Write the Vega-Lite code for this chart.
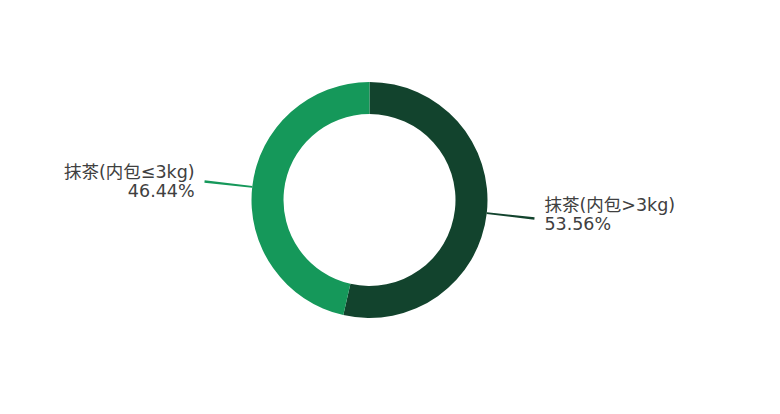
{
  "$schema": "https://vega.github.io/schema/vega-lite/v6.json",
  "width": 739,
  "height": 400,
  "padding": 0,
  "autosize": {"type": "none"},
  "background": "white",
  "view": {"stroke": null},
  "data": {
    "values": [
      {"idx": 1, "name": "抹茶(内包>3kg)", "value": 53.56},
      {"idx": 2, "name": "抹茶(内包≤3kg)", "value": 46.44}
    ]
  },
  "transform": [
    {"stack": "value", "groupby": [], "sort": [{"field": "idx"}], "as": ["v0", "v1"]},
    {"calculate": "(datum.v0 + datum.v1) / 2", "as": "mid"},
    {"calculate": "datum.mid - 0.12", "as": "lo"},
    {"calculate": "datum.mid + 0.12", "as": "hi"},
    {"calculate": "[datum.name, format(datum.value, '.2f') + '%']", "as": "label"}
  ],
  "encoding": {
    "color": {
      "field": "name",
      "type": "nominal",
      "scale": {"domain": ["抹茶(内包>3kg)", "抹茶(内包≤3kg)"], "range": ["#12432d", "#15985a"]},
      "legend": null
    }
  },
  "layer": [
    {
      "mark": {"type": "arc", "outerRadius": 118, "innerRadius": 86},
      "encoding": {
        "theta": {"field": "v0", "type": "quantitative", "scale": {"domain": [0, 100]}},
        "theta2": {"field": "v1"}
      }
    },
    {
      "mark": {"type": "arc", "outerRadius": 166, "innerRadius": 118},
      "encoding": {
        "theta": {"field": "lo", "type": "quantitative"},
        "theta2": {"field": "hi"}
      }
    },
    {
      "transform": [{"filter": "datum.idx == 1"}],
      "mark": {"type": "text", "radius": 176, "align": "left", "baseline": "middle", "dy": -14, "font": "DejaVu Sans, Noto Sans CJK SC", "fontSize": 17.5, "lineHeight": 19, "color": "#404040"},
      "encoding": {
        "theta": {"field": "mid", "type": "quantitative"},
        "text": {"field": "label"},
        "color": {"value": "#404040"}
      }
    },
    {
      "transform": [{"filter": "datum.idx == 2"}],
      "mark": {"type": "text", "radius": 176, "align": "right", "baseline": "middle", "dy": -7, "font": "DejaVu Sans, Noto Sans CJK SC", "fontSize": 17.5, "lineHeight": 19, "color": "#404040"},
      "encoding": {
        "theta": {"field": "mid", "type": "quantitative"},
        "text": {"field": "label"},
        "color": {"value": "#404040"}
      }
    }
  ]
}
